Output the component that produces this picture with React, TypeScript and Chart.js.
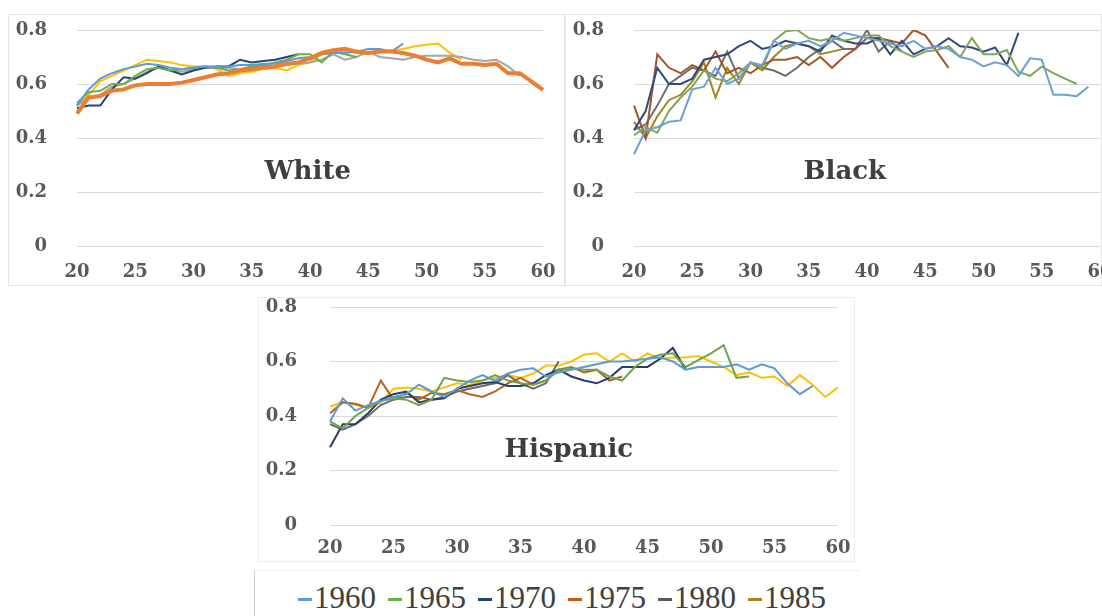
import React, { useEffect, useRef } from "react";
import { Chart, registerables } from "chart.js";

Chart.register(...registerables);

// ---------- data ----------
const AGES = [20, 21, 22, 23, 24, 25, 26, 27, 28, 29, 30, 31, 32, 33, 34, 35, 36, 37, 38, 39, 40, 41, 42, 43, 44, 45, 46, 47, 48, 49, 50, 51, 52, 53, 54, 55, 56, 57, 58, 59, 60];
const X_TICKS = [20, 25, 30, 35, 40, 45, 50, 55, 60];
const Y_MIN = 0;
const Y_MAX = 0.8;
const Y_STEP = 0.2;
const COHORTS = ["1960", "1965", "1970", "1975", "1980", "1985"];

// White panel (index 0 = age 20)
const white1960 = [0.52, 0.58, 0.62, 0.64, 0.655, 0.665, 0.675, 0.67, 0.66, 0.655, 0.66, 0.665, 0.665, 0.665, 0.67, 0.67, 0.675, 0.675, 0.685, 0.695, 0.7, 0.71, 0.715, 0.715, 0.72, 0.73, 0.73, 0.72, 0.75];
const white1965 = [0.53, 0.57, 0.575, 0.6, 0.6, 0.63, 0.655, 0.66, 0.65, 0.655, 0.66, 0.665, 0.66, 0.65, 0.655, 0.665, 0.67, 0.68, 0.69, 0.71, 0.71, 0.68, 0.72, 0.71, 0.7];
const white1970 = [0.51, 0.52, 0.52, 0.58, 0.625, 0.62, 0.64, 0.665, 0.65, 0.635, 0.65, 0.66, 0.665, 0.665, 0.69, 0.68, 0.685, 0.69, 0.7, 0.71];
const white1975 = [0.49, 0.55, 0.555, 0.575, 0.58, 0.595, 0.6, 0.6, 0.6, 0.605, 0.615, 0.625, 0.635, 0.64, 0.65, 0.655, 0.66, 0.665, 0.675, 0.68, 0.695, 0.715, 0.725, 0.73, 0.72, 0.715, 0.72, 0.72, 0.715, 0.705, 0.69, 0.68, 0.695, 0.675, 0.675, 0.67, 0.675, 0.64, 0.64, 0.61, 0.578];
const white1980 = [0.52, 0.55, 0.56, 0.59, 0.6, 0.62, 0.645, 0.66, 0.65, 0.645, 0.655, 0.66, 0.66, 0.66, 0.655, 0.66, 0.67, 0.665, 0.67, 0.675, 0.68, 0.69, 0.71, 0.69, 0.7, 0.72, 0.7, 0.695, 0.69, 0.7, 0.705, 0.705, 0.705, 0.7, 0.69, 0.685, 0.69, 0.665, 0.63];
const white1985 = [0.52, 0.56, 0.61, 0.63, 0.65, 0.67, 0.69, 0.685, 0.68, 0.67, 0.665, 0.665, 0.655, 0.63, 0.64, 0.645, 0.655, 0.66, 0.65, 0.67, 0.68, 0.71, 0.715, 0.72, 0.715, 0.71, 0.72, 0.725, 0.73, 0.74, 0.745, 0.75, 0.715, 0.69];

// Black panel
const black1960 = [0.34, 0.43, 0.44, 0.46, 0.465, 0.58, 0.59, 0.66, 0.6, 0.62, 0.68, 0.67, 0.76, 0.73, 0.75, 0.76, 0.74, 0.76, 0.79, 0.78, 0.77, 0.76, 0.75, 0.74, 0.76, 0.73, 0.74, 0.73, 0.7, 0.69, 0.665, 0.68, 0.67, 0.63, 0.695, 0.69, 0.56, 0.56, 0.555, 0.59];
const black1965 = [0.41, 0.44, 0.42, 0.5, 0.55, 0.59, 0.65, 0.62, 0.61, 0.64, 0.68, 0.66, 0.76, 0.795, 0.8, 0.77, 0.76, 0.77, 0.76, 0.77, 0.78, 0.78, 0.74, 0.72, 0.7, 0.72, 0.726, 0.74, 0.7, 0.77, 0.71, 0.71, 0.726, 0.645, 0.63, 0.664, 0.64, 0.62, 0.6];
const black1970 = [0.43, 0.5, 0.66, 0.6, 0.6, 0.62, 0.69, 0.7, 0.71, 0.74, 0.76, 0.73, 0.74, 0.76, 0.75, 0.74, 0.72, 0.78, 0.76, 0.75, 0.75, 0.77, 0.71, 0.76, 0.71, 0.73, 0.74, 0.77, 0.74, 0.735, 0.72, 0.735, 0.67, 0.79];
const black1975 = [0.52, 0.4, 0.71, 0.66, 0.64, 0.67, 0.65, 0.72, 0.64, 0.66, 0.64, 0.67, 0.69, 0.69, 0.7, 0.67, 0.7, 0.66, 0.7, 0.73, 0.77, 0.77, 0.76, 0.75, 0.8, 0.78, 0.72, 0.66];
const black1980 = [0.43, 0.45, 0.52, 0.6, 0.63, 0.66, 0.65, 0.63, 0.72, 0.62, 0.68, 0.66, 0.65, 0.63, 0.66, 0.7, 0.73, 0.76, 0.73, 0.73, 0.8, 0.72, 0.76, 0.72];
const black1985 = [0.46, 0.4, 0.48, 0.54, 0.56, 0.61, 0.68, 0.55, 0.66, 0.6, 0.68, 0.65, 0.7, 0.74, 0.75, 0.74, 0.71, 0.72, 0.73];

// Hispanic panel
const hisp1960 = [0.38, 0.465, 0.42, 0.44, 0.455, 0.47, 0.48, 0.515, 0.49, 0.47, 0.5, 0.53, 0.55, 0.53, 0.556, 0.57, 0.575, 0.545, 0.56, 0.57, 0.58, 0.59, 0.6, 0.6, 0.605, 0.61, 0.615, 0.6, 0.57, 0.58, 0.58, 0.58, 0.59, 0.57, 0.59, 0.575, 0.52, 0.48, 0.51];
const hisp1965 = [0.38, 0.355, 0.4, 0.43, 0.455, 0.465, 0.46, 0.44, 0.46, 0.54, 0.53, 0.525, 0.53, 0.55, 0.53, 0.52, 0.515, 0.53, 0.57, 0.575, 0.57, 0.57, 0.545, 0.53, 0.58, 0.61, 0.625, 0.63, 0.58, 0.605, 0.63, 0.66, 0.54, 0.545];
const hisp1970 = [0.285, 0.37, 0.37, 0.41, 0.46, 0.48, 0.49, 0.45, 0.46, 0.465, 0.5, 0.51, 0.52, 0.525, 0.51, 0.51, 0.52, 0.55, 0.57, 0.545, 0.53, 0.52, 0.54, 0.58, 0.58, 0.58, 0.61, 0.65, 0.57];
const hisp1975 = [0.41, 0.45, 0.445, 0.43, 0.53, 0.46, 0.485, 0.46, 0.485, 0.48, 0.495, 0.48, 0.47, 0.49, 0.52, 0.54, 0.515, 0.53, 0.57, 0.58, 0.56, 0.57, 0.53, 0.545];
const hisp1980 = [0.37, 0.35, 0.37, 0.4, 0.44, 0.46, 0.47, 0.47, 0.46, 0.47, 0.49, 0.5, 0.51, 0.52, 0.55, 0.52, 0.5, 0.52, 0.6];
const hisp1985 = [0.435, 0.45, 0.44, 0.43, 0.45, 0.5, 0.505, 0.5, 0.49, 0.505, 0.52, 0.515, 0.53, 0.54, 0.55, 0.54, 0.556, 0.585, 0.585, 0.6, 0.625, 0.63, 0.6, 0.63, 0.6, 0.63, 0.61, 0.615, 0.615, 0.62, 0.6, 0.58, 0.55, 0.56, 0.54, 0.545, 0.51, 0.55, 0.515, 0.47, 0.505];

// ---------- styles ----------
const TICK_FONT = { family: '"DejaVu Serif", serif', weight: "bold" as const, size: 18 };
const TICK_COLOR = "#595959";
const GRID_COLOR = "#d9d9d9";
const LEGEND_COLORS = ["#5B9BD5", "#70AD47", "#264478", "#C55A11", "#595959", "#A5851A"];

type Series = { label: string; data: number[]; color: string; width: number };
type PanelCfg = {
  title: string;
  titleAge: number;
  titleValue: number;
  series: Series[];
  left: number;
  top: number;
  width: number;
  height: number;
  yAxisWidth: number;
  padRight: number;
  padTop: number;
  xAxisHeight: number;
  yTickPad: number;
  xTickPad: number;
  border: string;
};

const mk = (data: number[][], colors: string[], widths: number[]): Series[] =>
  data.map((d, i) => ({ label: COHORTS[i], data: d, color: colors[i], width: widths[i] }));

const PANELS: PanelCfg[] = [
  {
    title: "White",
    titleAge: 39.8,
    titleValue: 0.274,
    series: mk(
      [white1960, white1965, white1970, white1975, white1980, white1985],
      ["#5B9BD5", "#70AD47", "#264478", "#ED7D31", "#A5A5A5", "#FFC000"],
      [2, 2, 2, 4, 2, 2]
    ),
    left: 8, top: 14, width: 557, height: 272,
    yAxisWidth: 69, padRight: 22, padTop: 16, xAxisHeight: 40, yTickPad: 30, xTickPad: 16,
    border: "#e6e6e6",
  },
  {
    title: "Black",
    titleAge: 38.1,
    titleValue: 0.274,
    series: mk(
      [black1960, black1965, black1970, black1975, black1980, black1985],
      ["#6E9FD6", "#7DA65A", "#2F4A80", "#A5542A", "#6E6E6E", "#9C8A1E"],
      [2, 2, 2, 2, 2, 2]
    ),
    left: 565, top: 14, width: 537, height: 272,
    yAxisWidth: 69, padRight: 2, padTop: 16, xAxisHeight: 40, yTickPad: 30, xTickPad: 16,
    border: "#e6e6e6",
  },
  {
    title: "Hispanic",
    titleAge: 38.8,
    titleValue: 0.276,
    series: mk(
      [hisp1960, hisp1965, hisp1970, hisp1975, hisp1980, hisp1985],
      ["#5B9BD5", "#6FA24A", "#2A3B70", "#B8621F", "#6A6A6A", "#FFC000"],
      [2, 2, 2, 2, 2, 2]
    ),
    left: 258, top: 297, width: 597, height: 265,
    yAxisWidth: 72, padRight: 17, padTop: 10, xAxisHeight: 37, yTickPad: 33, xTickPad: 13,
    border: "#ececec",
  },
];

const titlePlugin = {
  id: "panelTitle",
  afterDatasetsDraw(chart: any, _args: any, opts: any) {
    const { ctx, scales } = chart;
    const x = scales.x.getPixelForValue(opts.age - AGES[0]);
    const y = scales.y.getPixelForValue(opts.value);
    ctx.save();
    ctx.font = 'bold 26px "DejaVu Serif", serif';
    ctx.fillStyle = "#3f3f3f";
    ctx.textAlign = "center";
    ctx.textBaseline = "middle";
    ctx.fillText(opts.text, x, y);
    ctx.restore();
  },
};

function PanelChart({ p }: { p: PanelCfg }) {
  const ref = useRef<HTMLCanvasElement>(null);
  useEffect(() => {
    if (!ref.current) return;
    const chart = new Chart(ref.current, {
      type: "line",
      data: {
        labels: AGES.map(String),
        datasets: p.series.map((s, i) => ({
          label: s.label,
          data: s.data,
          borderColor: s.color,
          backgroundColor: s.color,
          borderWidth: s.width,
          pointRadius: 0,
          pointHoverRadius: 0,
          tension: 0,
          fill: false,
          order: s.width > 2 ? -1 : i,
        })),
      },
      options: {
        animation: false,
        responsive: false,
        maintainAspectRatio: false,
        devicePixelRatio: 1,
        events: [],
        layout: { padding: { left: 0, right: p.padRight, top: p.padTop, bottom: 0 } },
        plugins: {
          legend: { display: false },
          tooltip: { enabled: false },
          // @ts-ignore
          panelTitle: { text: p.title, age: p.titleAge, value: p.titleValue },
        },
        scales: {
          x: {
            type: "category",
            grid: { display: false, drawTicks: false },
            border: { display: false },
            ticks: {
              autoSkip: false,
              maxRotation: 0,
              minRotation: 0,
              padding: p.xTickPad,
              color: TICK_COLOR,
              font: TICK_FONT,
              callback: (_v: any, i: number) => (X_TICKS.includes(AGES[i]) ? String(AGES[i]) : ""),
            },
            afterFit: (s: any) => {
              s.height = p.xAxisHeight;
              s.paddingLeft = 0;
              s.paddingRight = 0;
            },
          },
          y: {
            min: Y_MIN,
            max: Y_MAX,
            grid: { color: GRID_COLOR, lineWidth: 1, drawTicks: false },
            border: { display: false },
            ticks: {
              stepSize: Y_STEP,
              padding: p.yTickPad,
              color: TICK_COLOR,
              font: TICK_FONT,
              callback: (v: any) => {
                const n = Math.round(Number(v) * 10) / 10;
                return n === 0 ? "0" : n.toFixed(1);
              },
            },
            afterFit: (s: any) => {
              s.width = p.yAxisWidth;
              s.paddingTop = 0;
              s.paddingBottom = 0;
            },
          },
        },
      } as any,
      plugins: [titlePlugin as any],
    });
    return () => chart.destroy();
  }, []);
  return (
    <>
      <div
        style={{
          position: "absolute",
          left: p.left,
          top: p.top,
          width: p.width,
          height: p.height,
          boxSizing: "border-box",
          border: `1px solid ${p.border}`,
        }}
      />
      <canvas
        ref={ref}
        width={p.width}
        height={p.height}
        style={{ position: "absolute", left: p.left, top: p.top, width: p.width, height: p.height }}
      />
    </>
  );
}

function Legend() {
  return (
    <div
      style={{
        position: "absolute",
        left: 254,
        top: 570,
        width: 606,
        height: 46,
        boxSizing: "border-box",
        borderLeft: "1px solid #cfcfcf",
        borderTop: "1px solid #eeeeee",
      }}
    >
      <div
        style={{
          position: "absolute",
          left: 43,
          top: 9,
          display: "flex",
          alignItems: "center",
          gap: 12,
          fontFamily: '"Liberation Serif", serif',
          fontSize: 31,
          lineHeight: "36px",
          color: "#404040",
          whiteSpace: "nowrap",
        }}
      >
        {COHORTS.map((c, i) => (
          <span key={c} style={{ display: "flex", alignItems: "center" }}>
            <span
              style={{
                display: "inline-block",
                width: 14,
                height: 3,
                background: LEGEND_COLORS[i],
                marginRight: 2,
                marginTop: 2,
              }}
            />
            <span>{c}</span>
          </span>
        ))}
      </div>
    </div>
  );
}

export default function App() {
  return (
    <div
      style={{
        position: "absolute",
        left: 0,
        top: 0,
        width: 1102,
        height: 616,
        overflow: "hidden",
        background: "#ffffff",
      }}
    >
      {PANELS.map((p) => (
        <PanelChart key={p.title} p={p} />
      ))}
      <Legend />
    </div>
  );
}
